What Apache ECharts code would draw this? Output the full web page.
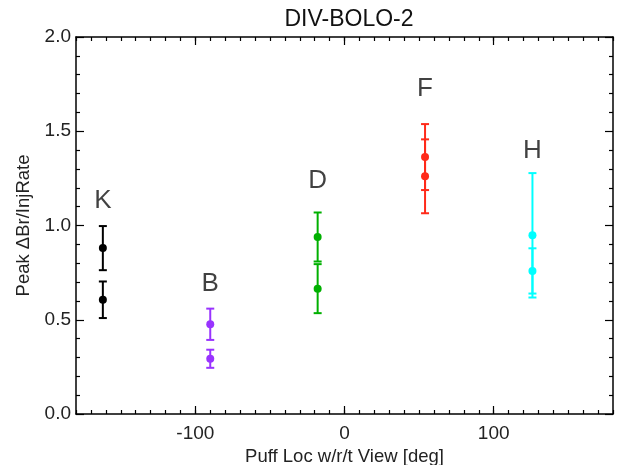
<!DOCTYPE html>
<html>
<head>
<meta charset="utf-8">
<script src="https://cdn.jsdelivr.net/npm/echarts@6/dist/echarts.min.js"></script>
<style>html,body{margin:0;padding:0;background:#fff;}#c{width:621px;height:465px;}</style>
</head>
<body>
<div id="c"></div>
<script>
const groups = ['K', 'B', 'D', 'F', 'H'];
const xPos = [-162, -90, -18, 54, 126];
const upperVal = [0.880, 0.476, 0.939, 1.363, 0.948];
const upperErr = [0.117, 0.083, 0.130, 0.175, 0.330];
const lowerVal = [0.606, 0.293, 0.665, 1.261, 0.759];
const lowerErr = [0.097, 0.048, 0.130, 0.196, 0.120];
const labelY = [1.13, 0.69, 1.236, 1.724, 1.395];
const colors = ['#000000', '#9933ff', '#00b000', '#ff2a1a', '#00ffff'];
const xMajorTicks = [-100, 0, 100];
const yTickLabels = ['0.0', '0.5', '1.0', '1.5', '2.0'];

const FONT = "'Liberation Sans', Arial, Helvetica, sans-serif";
const chart = echarts.init(document.getElementById('c'), null, {renderer: 'canvas'});

function xAxisDef(position, major, showLabel) {
  return {
    type: 'value', min: -180, max: 180, interval: 10, position: position,
    axisLine: {show: !major, onZero: false, lineStyle: {color: '#000', width: 1.5}},
    axisTick: major ? {show: true, inside: true, length: 8, customValues: xMajorTicks, lineStyle: {color: '#000', width: 1.2}}
                    : {show: true, inside: true, length: 4, lineStyle: {color: '#000', width: 1.2}},
    axisLabel: showLabel ? {show: true, customValues: xMajorTicks, margin: 10, fontSize: 19, color: '#222', fontFamily: FONT}
                         : {show: false},
    splitLine: {show: false}
  };
}
function yAxisDef(position, showLabel) {
  return {
    type: 'value', min: 0, max: 2, interval: 0.5, position: position,
    axisLine: {show: true, onZero: false, lineStyle: {color: '#000', width: 1.5}},
    axisTick: {show: true, inside: true, length: 8, lineStyle: {color: '#000', width: 1.2}},
    minorTick: {show: true, splitNumber: 5, length: 4, lineStyle: {color: '#000', width: 1.2}},
    axisLabel: showLabel ? {show: true, margin: 5, fontSize: 19, color: '#222', fontFamily: FONT,
                 formatter: function (v) { return yTickLabels[Math.round(v / 0.5)]; }}
                         : {show: false},
    splitLine: {show: false}
  };
}

const xAxes = [xAxisDef('bottom', false, true), xAxisDef('bottom', true, false), xAxisDef('top', false, false), xAxisDef('top', true, false)];
xAxes[0].name = 'Puff Loc w/r/t View [deg]';
xAxes[0].nameLocation = 'middle';
xAxes[0].nameGap = 29;
xAxes[0].nameTextStyle = {fontSize: 18.5, color: '#222', fontFamily: FONT};

const yAxes = [yAxisDef('left', true), yAxisDef('right', false)];
yAxes[0].name = 'Peak \u0394Br/InjRate';
yAxes[0].nameLocation = 'middle';
yAxes[0].nameGap = 42;
yAxes[0].nameTextStyle = {fontSize: 18.5, color: '#222', fontFamily: FONT};

const series = [];
groups.forEach(function (g, i) {
  const bars = [[xPos[i], upperVal[i], upperErr[i]], [xPos[i], lowerVal[i], lowerErr[i]]];
  series.push({
    type: 'custom', xAxisIndex: 0, yAxisIndex: 0, silent: true,
    data: bars,
    renderItem: function (params, api) {
      const x = api.value(0), y = api.value(1), e = api.value(2);
      const top = api.coord([x, y + e]);
      const bot = api.coord([x, y - e]);
      const hw = 4;
      const st = {stroke: colors[i], lineWidth: 2};
      return {
        type: 'group',
        children: [
          {type: 'line', shape: {x1: top[0], y1: top[1], x2: bot[0], y2: bot[1]}, style: st},
          {type: 'line', shape: {x1: top[0] - hw, y1: top[1], x2: top[0] + hw, y2: top[1]}, style: st},
          {type: 'line', shape: {x1: bot[0] - hw, y1: bot[1], x2: bot[0] + hw, y2: bot[1]}, style: st}
        ]
      };
    },
    z: 2
  });
  series.push({
    type: 'scatter', xAxisIndex: 0, yAxisIndex: 0, silent: true,
    data: bars.map(function (b) { return [b[0], b[1]]; }),
    symbol: 'circle', symbolSize: 8,
    itemStyle: {color: colors[i], opacity: 1},
    z: 3
  });
});
series.push({
  type: 'scatter', xAxisIndex: 0, yAxisIndex: 0, silent: true,
  data: groups.map(function (g, i) { return [xPos[i], labelY[i]]; }),
  symbolSize: 0,
  label: {show: true, position: 'inside', fontSize: 26, color: '#111', fontFamily: FONT,
    formatter: function (p) { return groups[p.dataIndex]; }},
  z: 4
});

chart.setOption({
  animation: false,
  backgroundColor: '#fff',
  title: {text: 'DIV-BOLO-2', left: 344, top: 3, textAlign: 'center',
    textStyle: {fontSize: 23, fontWeight: 'normal', color: '#111', fontFamily: FONT}},
  grid: {left: 76, right: 8, top: 37, bottom: 51, containLabel: false, outerBoundsMode: 'none'},
  xAxis: xAxes,
  yAxis: yAxes,
  series: series
});
</script>
</body>
</html>
